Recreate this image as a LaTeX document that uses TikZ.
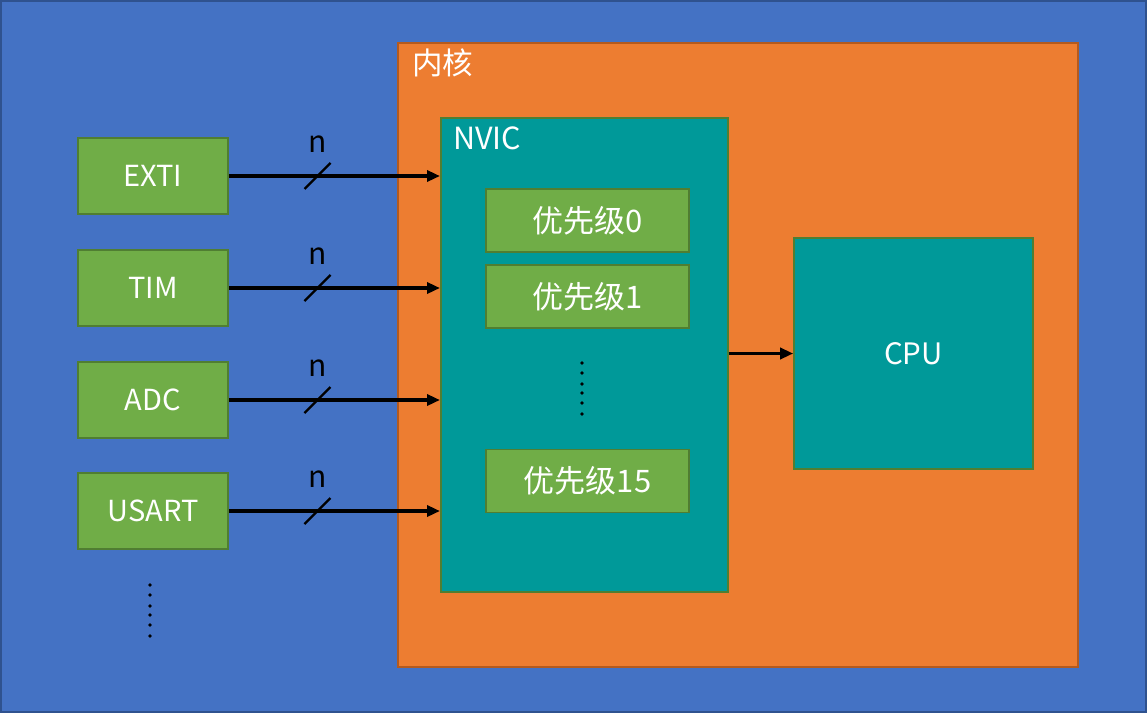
\documentclass[tikz,border=0pt]{standalone}
\usepackage{fontspec}
\newfontfamily\cjk{Noto Sans CJK SC}
\usepackage{tikz}
\usetikzlibrary{positioning,arrows.meta}
\usepackage{xcolor}
\definecolor{bgblue}{HTML}{4472C4}
\definecolor{bgedge}{HTML}{2F528F}
\definecolor{coreorange}{HTML}{ED7D31}
\definecolor{coreedge}{HTML}{B45A1E}
\definecolor{nvicteal}{HTML}{009999}
\definecolor{srcgreen}{HTML}{70AD47}
\definecolor{greenedge}{HTML}{507E32}

\begin{document}
\begin{tikzpicture}[x=1pt, y=-1pt,
      source/.style={draw=greenedge, fill=srcgreen, line width=1.6pt, text=white,
                     minimum width=150pt, minimum height=76pt, font=\cjk\fontsize{29}{32}\selectfont},
      prio/.style={draw=greenedge, fill=srcgreen, line width=1.6pt, text=white,
                   minimum width=203pt, minimum height=63pt, font=\cjk\fontsize{31}{34}\selectfont},
      block/.style={draw=greenedge, fill=nvicteal, line width=1.6pt, text=white,
                    font=\cjk\fontsize{29.5}{32}\selectfont},
      title/.style={text=white, inner sep=0pt, font=\cjk\fontsize{30.5}{33}\selectfont},
      busw/.style={font=\cjk\fontsize{30}{32}\selectfont, text=black},
      >={Triangle[length=13pt, width=11pt]}]
    \useasboundingbox (0,0) rectangle (1147,713);
    \fill[bgblue] (0,0) rectangle (1147,713);
    \draw[bgedge, line width=2pt] (1,1) rectangle (1146,712);
    % core and its contents
    \node[draw=coreedge, fill=coreorange, line width=2pt, anchor=north west,
          minimum width=680pt, minimum height=624pt] (core) at (397,42) {};
    \node[title, anchor=north west] (corelbl) at (412,49) {内核};
    \node[block, anchor=north west, minimum width=287pt, minimum height=474pt] (nvic) at (440,117) {};
    \node[title, anchor=north west] (nviclbl) at (453,127) {NVIC};
    \node[prio] (p0) at (587.5,220.5) {优先级0};
    \node[prio] (p1) at (587.5,296.5) {优先级1};
    \node[prio] (p15) at (587.5,481) {优先级15};
    \node[block, minimum width=239pt, minimum height=231pt] (cpu) at (913.5,353.5) {CPU};
    \draw[->, line width=3.5pt] (nvic.east |- cpu) -- (cpu.west);
    % interrupt sources
    \node[source] (exti) at (153,176) {EXTI};
    \node[source] (tim) at (153,288) {TIM};
    \node[source] (adc) at (153,400) {ADC};
    \node[source] (usart) at (153,511) {USART};
    \foreach \src in {exti,tim,adc,usart}{
      \draw[->, line width=3.5pt] (\src.east) -- coordinate[pos=0.42] (\src-w) (\src -| nvic.west);
      \draw[line width=2.2pt] (\src-w) ++(-13,13) -- ++(26,-26);
      \node[busw] (\src-n) at ([yshift=32pt]\src-w) {n};
    }
    % ellipsis dots
    \foreach \yy in {585,595,606,615,625,636}
      \fill[black] (150,\yy) circle (1.9pt);
    \foreach \yy in {363,373,384,393,403,414}
      \fill[black] (582,\yy) circle (1.9pt);
  \end{tikzpicture}
\end{document}
